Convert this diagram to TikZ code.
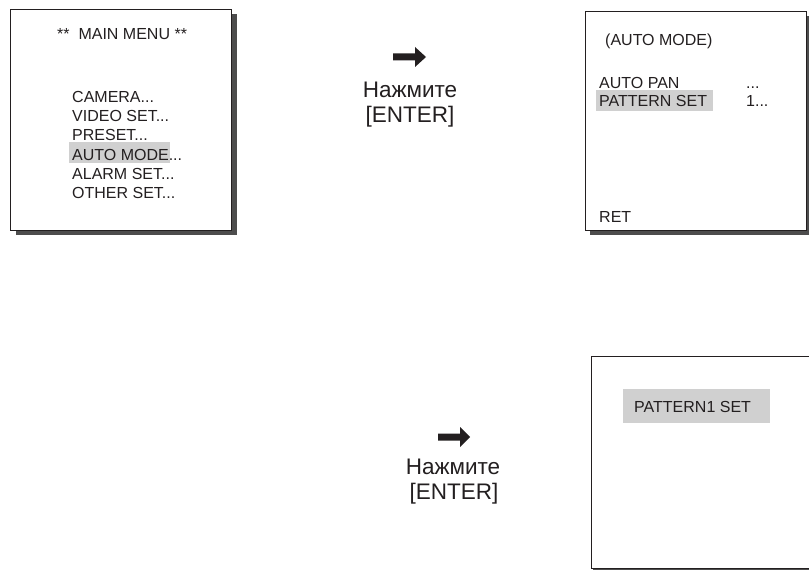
\documentclass[tikz,border=0pt]{standalone}
\usepackage{fontspec}
\setmainfont{Liberation Sans}
\definecolor{ink}{HTML}{231F20}
\definecolor{shade}{HTML}{4D4D4D}
\definecolor{hilite}{HTML}{D0D0D0}
\begin{document}
\begin{tikzpicture}[x=1pt,y=-1pt,
  menutext/.style={inner sep=0pt,anchor=base west,text=ink,font=\fontsize{16}{19}\selectfont},
  presstext/.style={inner sep=0pt,anchor=base,text=ink,font=\fontsize{22.5}{25}\selectfont},
  screen/.style={draw=ink,line width=0.8pt,fill=white},
  shadowbox/.style={fill=shade},
  hl/.style={fill=hilite}]
\useasboundingbox (0,0) rectangle (809,578);
\fill[white] (0,0) rectangle (809,578);

% ---------- main menu screen ----------
\fill[shadowbox] (16,14) rectangle (237,235);
\draw[screen] (10,9) rectangle (231,230);
\fill[hl] (69,142) rectangle (170,163);
\node[menutext] (title) at (57,39.5) {**\ \ MAIN MENU **};
\node[menutext] (m1) at (72,102.5) {CAMERA...};
\node[menutext] (m2) at (72,121.7) {VIDEO SET...};
\node[menutext] (m3) at (72,140.9) {PRESET...};
\node[menutext] (m4) at (72,160.1) {AUTO MODE...};
\node[menutext] (m5) at (72,179.3) {ALARM SET...};
\node[menutext] (m6) at (72,198.5) {OTHER SET...};

% ---------- auto mode screen ----------
\fill[shadowbox] (590,16) rectangle (812,235);
\draw[screen] (585,11) rectangle (806,230);
\fill[hl] (596,90) rectangle (713,111);
\node[menutext] (a0) at (605,46) {(AUTO MODE)};
\node[menutext] (a1) at (599,88.5) {AUTO PAN};
\node[menutext] (a1v) at (746,88.5) {...};
\node[menutext] (a2) at (599,106.5) {PATTERN SET};
\node[menutext] (a2v) at (746,106.5) {1...};
\node[menutext] (ret) at (599,222.5) {RET};

% ---------- pattern screen ----------
\fill[shadowbox] (593,358) rectangle (815,570);
\draw[screen] (591,356) rectangle (815,568);
\fill[hl] (623,389) rectangle (770,423);
\node[menutext] (p1) at (634,412) {PATTERN1 SET};

% ---------- press arrows ----------
\fill[ink] (393,53.5) -- (415,53.5) -- (415,47) -- (426,57) -- (415,67) -- (415,60.5) -- (393,60.5) -- cycle;
\node[presstext] (t1a) at (410,97) {Нажмите};
\node[presstext] (t1b) at (410,122) {[ENTER]};

\fill[ink] (438,433.5) -- (460,433.5) -- (460,427) -- (470,437) -- (460,447) -- (460,440.5) -- (438,440.5) -- cycle;
\node[presstext] (t2a) at (453,474) {Нажмите};
\node[presstext] (t2b) at (454,499) {[ENTER]};
\end{tikzpicture}
\end{document}
